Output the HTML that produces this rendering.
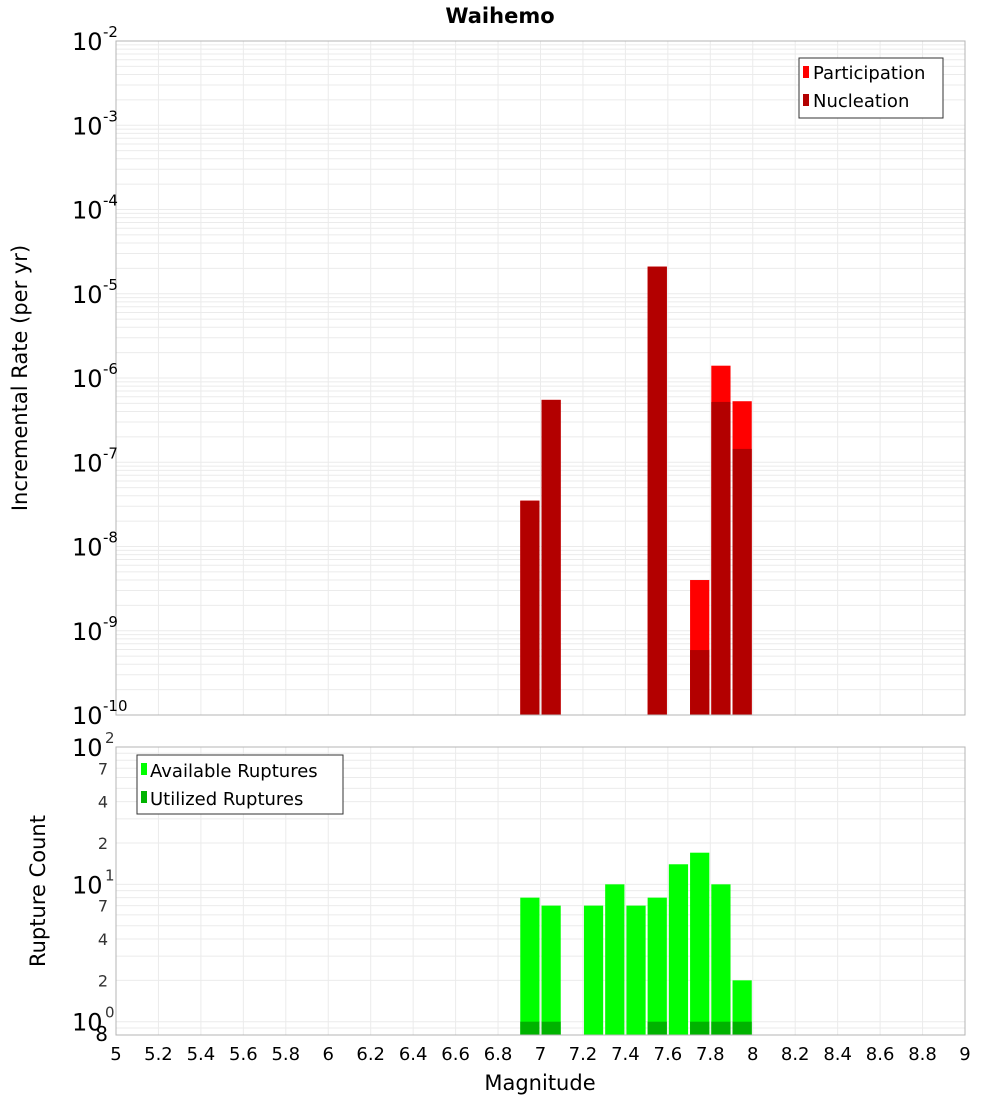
<!DOCTYPE html>
<html><head><meta charset="utf-8"><style>
html,body{margin:0;padding:0;background:#fff;}
svg{display:block;font-family:"DejaVu Sans","Liberation Sans",sans-serif;}
</style></head><body>
<svg id="chart" width="1000" height="1100" viewBox="0 0 1000 1100" style="position:absolute;left:0;top:0"></svg>
<script>
const binCenters = [6.95, 7.05, 7.55, 7.75, 7.85, 7.95];
const participation = [3.5e-8, 5.5e-7, 2.1e-5, 4.0e-9, 1.4e-6, 5.3e-7];
const nucleation = [3.5e-8, 5.5e-7, 2.1e-5, 5.9e-10, 5.2e-7, 1.44e-7];
const countBins = [6.95, 7.05, 7.25, 7.35, 7.45, 7.55, 7.65, 7.75, 7.85, 7.95];
const available = [8, 7, 7, 10, 7, 8, 14, 17, 10, 2];
const utilizedBins = [6.95, 7.05, 7.55, 7.75, 7.85, 7.95];
const utilized = [1, 1, 1, 1, 1, 1];
const xTicks = [5,5.2,5.4,5.6,5.8,6,6.2,6.4,6.6,6.8,7,7.2,7.4,7.6,7.8,8,8.2,8.4,8.6,8.8,9];
const topExps = [-2,-3,-4,-5,-6,-7,-8,-9,-10];

const svg = document.getElementById('chart');
const NS = 'http://www.w3.org/2000/svg';
const X0 = 116, X1 = 965;
const T0 = 41, T1 = 715;
const B0 = 747, B1 = 1035;
const xs = m => X0 + (m - 5) / 4 * (X1 - X0);
const yTop = v => T0 + (-2 - Math.log10(v)) / 8 * (T1 - T0);
const bLo = Math.log10(0.8), bHi = 2;
const yBot = v => B0 + (bHi - Math.log10(v)) / (bHi - bLo) * (B1 - B0);
function el(tag, attrs, parent) {
  const e = document.createElementNS(NS, tag);
  for (const k in attrs) e.setAttribute(k, attrs[k]);
  (parent || svg).appendChild(e);
  return e;
}
function txt(s, attrs, parent) { const t = el('text', attrs, parent); t.textContent = s; return t; }

el('rect', {x:X0,y:T0,width:X1-X0,height:T1-T0,fill:'#fff'});
el('rect', {x:X0,y:B0,width:X1-X0,height:B1-B0,fill:'#fff'});

const grid = el('g', {stroke:'#ebebeb','stroke-width':1});


for (let m = 5; m <= 9.001; m += 0.2) {
  el('line', {x1:xs(m),x2:xs(m),y1:T0,y2:T1}, grid);
  el('line', {x1:xs(m),x2:xs(m),y1:B0,y2:B1}, grid);
}
for (let e = -10; e < -2; e++) for (let k = 1; k < 10; k++) {
  const y = yTop(k * Math.pow(10, e));
  el('line', {x1:X0,x2:X1,y1:y,y2:y}, grid);
}
for (let e = -1; e < 2; e++) for (let k = 1; k < 10; k++) {
  const v = k * Math.pow(10, e); if (v < 0.8) continue;
  const y = yBot(v);
  el('line', {x1:X0,x2:X1,y1:y,y2:y}, grid);
}

const bw = xs(5.1) - xs(5) - 2;
binCenters.forEach((m, i) => {
  const x = xs(m - 0.05) + 1;
  const p = el('rect', {x:x,y:yTop(participation[i]),width:bw,height:T1-yTop(participation[i]),fill:'#ff0000'});
  
  
  const n = el('rect', {x:x,y:yTop(nucleation[i]),width:bw,height:T1-yTop(nucleation[i]),fill:'#b30000'});
  
  
});
countBins.forEach((m, i) => {
  const x = xs(m - 0.05) + 1;
  const r = el('rect', {x:x,y:yBot(available[i]),width:bw,height:B1-yBot(available[i]),fill:'#00ff00'});
  
  
});
utilizedBins.forEach((m, i) => {
  const x = xs(m - 0.05) + 1;
  const r = el('rect', {x:x,y:yBot(utilized[i]),width:bw,height:B1-yBot(utilized[i]),fill:'#00b300'});
  
  
});

el('rect', {x:X0,y:T0,width:X1-X0,height:T1-T0,fill:'none',stroke:'#b4b4b4','stroke-width':1});
el('rect', {x:X0,y:B0,width:X1-X0,height:B1-B0,fill:'none',stroke:'#b4b4b4','stroke-width':1});

topExps.forEach(e => {
  const y = yTop(Math.pow(10, e));
  const t = txt('10', {x:72,y:y+9,'font-size':24,fill:'#000'});
  
  
  txt(String(e), {x:103,y:y-4,'font-size':15,fill:'#000'});
});
[[100,'2'],[10,'1'],[1,'0']].forEach(([v,e]) => {
  const y = yBot(v);
  const t = txt('10', {x:72,y:y+9,'font-size':24,fill:'#000'});
  
  
  txt(e, {x:105,y:y-4,'font-size':15,fill:'#333'});
});
[70,40,20,7,4,2].forEach(v => {
  txt(String(v).charAt(0), {x:108,y:yBot(v)+6,'font-size':16,'text-anchor':'end',fill:'#333'});
});
txt('8', {x:108,y:1041,'font-size':20,'text-anchor':'end',fill:'#000'});

xTicks.forEach(m => {
  const t = txt(String(m), {x:xs(m),y:1060,'font-size':18,'text-anchor':'middle',fill:'#000'});
  
  
});
</script>
<svg width="1000" height="1100" style="position:absolute;left:0;top:0">
<text x="500" y="23" font-size="21" font-weight="bold" text-anchor="middle">Waihemo</text>
<text x="540" y="1090" font-size="21" text-anchor="middle">Magnitude</text>
<text transform="translate(27,378) rotate(-90)" font-size="21" text-anchor="middle">Incremental Rate (per yr)</text>
<text transform="translate(45,891) rotate(-90)" font-size="21" text-anchor="middle">Rupture Count</text>
<g font-size="18">
<rect x="799" y="58" width="144" height="60" fill="#fff" stroke="#333"/>
<rect x="803" y="66" width="6" height="12" fill="#ff0000"/>
<text x="813" y="79">Participation</text>
<rect x="803" y="94" width="6" height="12" fill="#b30000"/>
<text x="813" y="107">Nucleation</text>
</g>
<g font-size="18">
<rect x="137" y="755" width="206" height="59" fill="#fff" stroke="#333"/>
<rect x="141" y="763" width="6" height="12" fill="#00ff00"/>
<text x="150" y="777">Available Ruptures</text>
<rect x="141" y="791" width="6" height="12" fill="#00b300"/>
<text x="150" y="805">Utilized Ruptures</text>
</g>
</svg>
</body></html>
